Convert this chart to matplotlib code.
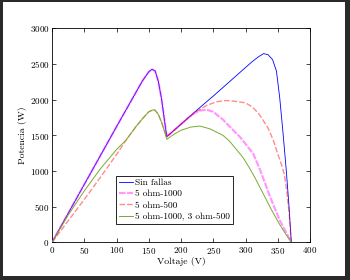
import matplotlib
matplotlib.use('Agg')
import matplotlib.pyplot as plt
from matplotlib.patches import Rectangle

plt.rcParams['font.family'] = ['cmr10', 'DejaVu Serif']
plt.rcParams['axes.formatter.use_mathtext'] = True
plt.rcParams['mathtext.fontset'] = 'cm'

# Curvas P-V
v_sin = [0, 25, 50, 75, 100, 125, 140, 150, 155, 160, 165, 170, 175, 178,
         190, 210, 230, 250, 270, 290, 310, 320, 328, 335, 342, 348, 353,
         358, 363, 367, 371]
p_sin = [0, 405, 810, 1215, 1620, 2020, 2260, 2390, 2425, 2400, 2250, 2000,
         1670, 1481, 1576, 1735, 1895, 2050, 2210, 2370, 2530, 2600, 2645,
         2630, 2560, 2400, 2030, 1550, 1030, 560, 0]

v_1000 = [0, 25, 50, 75, 100, 125, 140, 150, 155, 160, 165, 170, 175, 178,
          190, 200, 210, 220, 230, 240, 250, 265, 280, 291, 300, 312, 322,
          338, 353, 371]
p_1000 = [0, 405, 810, 1215, 1620, 2020, 2260, 2390, 2425, 2400, 2250, 2000,
          1670, 1481, 1576, 1656, 1735, 1810, 1848, 1858, 1830, 1720, 1580,
          1480, 1380, 1240, 1030, 640, 310, 0]

v_500 = [0, 25, 50, 75, 100, 115, 130, 140, 150, 157, 160, 165, 170, 175,
         178, 190, 200, 210, 225, 240, 255, 270, 285, 300, 310, 320, 327,
         335, 343, 350, 355, 360, 364, 368, 371]
p_500 = [0, 300, 600, 910, 1230, 1435, 1620, 1730, 1830, 1858, 1850, 1790,
         1680, 1540, 1481, 1576, 1656, 1735, 1840, 1920, 1970, 1988, 1975,
         1955, 1900, 1810, 1715, 1600, 1434, 1240, 1110, 960, 720, 380, 0]

v_mix = [0, 25, 50, 75, 100, 115, 130, 140, 150, 157, 160, 165, 170, 175,
         178, 190, 200, 215, 229, 245, 265, 275, 286, 296, 305, 315, 327,
         340, 353, 362, 371]
p_mix = [0, 380, 720, 1030, 1300, 1435, 1620, 1730, 1830, 1858, 1850, 1790,
         1680, 1540, 1444, 1520, 1570, 1615, 1630, 1590, 1500, 1420, 1300,
         1190, 1060, 900, 690, 460, 250, 120, 0]

labels = ['Sin fallas', '5 ohm-1000', '5 ohm-500', '5 ohm-1000, 3 ohm-500']

fig = plt.figure(figsize=(3.5, 2.8), dpi=100, facecolor='#2a2a2a')
fig.patches.append(Rectangle((3 / 350, 4 / 280), 342 / 350, 274 / 280,
                             transform=fig.transFigure, facecolor='white',
                             edgecolor='none', zorder=-10))
ax = fig.add_axes([52 / 350, 37.7 / 280, 258 / 350, 214 / 280])

ax.plot(v_sin, p_sin, color='#0000ff', lw=0.6, label=labels[0], zorder=2)
ax.plot(v_1000, p_1000, color='#ff00ff', lw=1.6, alpha=0.4,
        dashes=(3, 0.6), label=labels[1], zorder=3)
ax.plot(v_500, p_500, color='#ff0000', lw=1.0, alpha=0.45,
        dashes=(4, 1.5), label=labels[2], zorder=3)
ax.plot(v_mix, p_mix, color='#77ac30', lw=0.7, label=labels[3], zorder=4)

ax.set_xlim(0, 400)
ax.set_ylim(0, 3000)
ax.set_xticks(range(0, 401, 50))
ax.set_yticks(range(0, 3001, 500))
ax.tick_params(direction='in', top=True, right=True, length=3, width=0.5,
               labelsize=6.5, pad=2)
for s in ax.spines.values():
    s.set_linewidth(0.6)
ax.set_xlabel('Voltaje (V)', fontsize=7, labelpad=1)
ax.set_ylabel('Potencia (W)', fontsize=7, labelpad=2)

leg = ax.legend(loc='upper left', bbox_to_anchor=(0.247, 0.311),
                borderaxespad=0, fontsize=6.7, frameon=True, fancybox=False,
                framealpha=1, edgecolor='black', handlelength=1.6,
                handletextpad=0.2, labelspacing=0.3, borderpad=0.3)
leg.get_frame().set_linewidth(0.6)

fig.savefig('out.png', dpi=100, facecolor=fig.get_facecolor())
